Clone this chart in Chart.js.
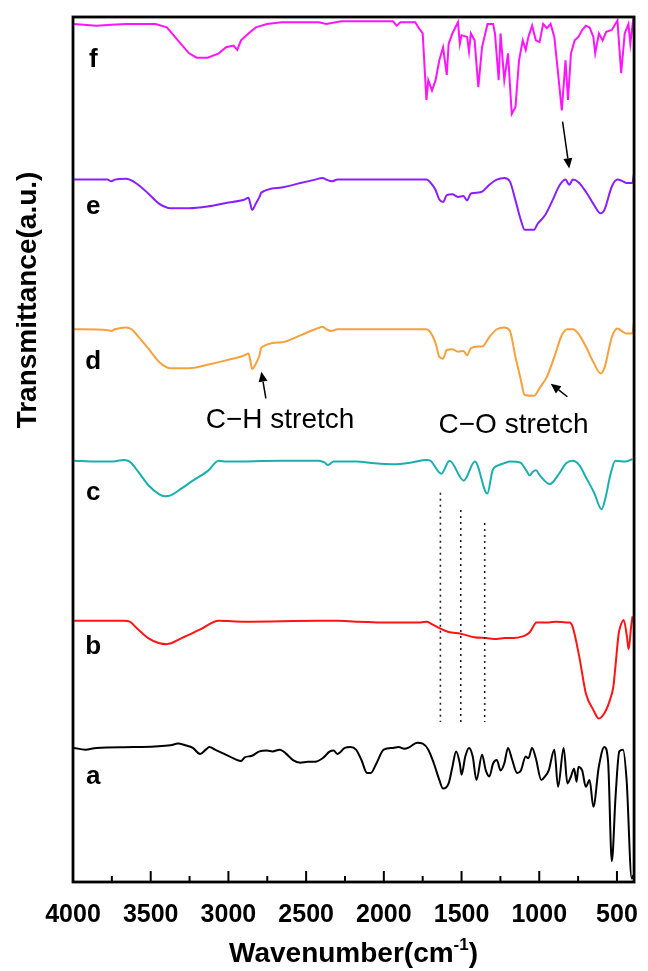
<!DOCTYPE html>
<html lang="en">

<head>
    <meta charset="UTF-8">
    <title>FTIR spectra</title>
    <script src="https://cdn.jsdelivr.net/npm/chart.js"></script>
    <style>
        body {
            margin: 0;
            background: #fff;
        }

        #wrap {
            width: 648px;
            height: 971px;
            position: relative;
        }
    </style>
</head>

<script>
    // wavenumber (cm-1) / transmittance (a.u., already offset for stacking)
    const waveF = [3993, 3850, 3754, 3659, 3468, 3396, 3325, 3253, 3205, 3134, 3062, 3015, 2967, 2943, 2919, 2871, 2824, 2752, 2657, 2418, 2370, 2275, 2060, 1941, 1917, 1893, 1798, 1774, 1750, 1726, 1714, 1690, 1667, 1643, 1619, 1595, 1583, 1559, 1523, 1511, 1500, 1464, 1452, 1440, 1416, 1392, 1368, 1333, 1297, 1285, 1261, 1249, 1225, 1201, 1177, 1153, 1130, 1106, 1087, 1070, 1046, 1022, 998, 975, 951, 927, 903, 879, 855, 831, 815, 796, 772, 748, 724, 700, 676, 652, 640, 616, 592, 569, 533, 497, 473, 450, 426, 414, 395];
    const transF = [99.2, 99.0, 99.1, 99.2, 99.2, 98.8, 97.3, 95.8, 95.3, 95.3, 95.8, 96.5, 96.7, 96.2, 97.3, 98.1, 98.8, 99.2, 99.4, 99.4, 99.2, 99.5, 99.5, 99.5, 99.0, 99.4, 99.4, 98.7, 98.1, 90.4, 92.7, 91.5, 92.7, 95.0, 96.5, 93.3, 96.9, 98.1, 99.4, 96.9, 97.9, 97.7, 96.0, 98.1, 97.3, 91.9, 96.5, 99.2, 99.2, 98.1, 92.7, 98.1, 92.7, 95.8, 88.8, 89.6, 95.0, 97.3, 96.2, 97.7, 99.0, 97.3, 97.1, 99.2, 98.7, 99.2, 97.7, 93.5, 89.2, 95.0, 90.4, 95.8, 97.3, 97.7, 98.5, 99.0, 98.8, 97.7, 95.8, 98.1, 97.3, 98.3, 98.5, 99.6, 93.5, 98.1, 99.2, 96.9, 99.8];

    const waveE = [3993, 3778, 3754, 3730, 3659, 3635, 3587, 3516, 3444, 3372, 3253, 3134, 3015, 2895, 2871, 2859, 2848, 2824, 2800, 2788, 2657, 2537, 2442, 2394, 2370, 2335, 2299, 2179, 1941, 1726, 1702, 1667, 1643, 1619, 1595, 1559, 1523, 1488, 1464, 1440, 1392, 1368, 1321, 1273, 1225, 1189, 1153, 1118, 1094, 1034, 1010, 962, 915, 867, 831, 807, 784, 748, 700, 652, 605, 581, 533, 497, 461, 438, 402, 390];
    const transE = [81.2, 81.2, 81.0, 81.2, 81.3, 81.2, 80.7, 79.6, 78.4, 77.9, 77.9, 78.1, 78.5, 78.9, 79.1, 78.4, 77.7, 78.4, 79.2, 79.7, 80.3, 80.8, 81.2, 81.4, 81.2, 81.0, 81.2, 81.2, 81.2, 81.2, 80.9, 80.0, 78.9, 78.6, 79.4, 79.5, 79.2, 79.3, 78.8, 79.6, 79.7, 79.8, 80.6, 81.2, 81.4, 81.0, 78.8, 76.5, 75.4, 75.4, 76.1, 77.1, 78.8, 80.6, 81.2, 80.6, 81.2, 80.9, 79.8, 78.4, 77.3, 77.7, 80.4, 81.2, 81.0, 80.8, 80.8, 81.9];

    const waveD = [3993, 3778, 3754, 3730, 3659, 3623, 3587, 3516, 3444, 3372, 3253, 3134, 3015, 2895, 2871, 2859, 2848, 2824, 2800, 2788, 2657, 2537, 2442, 2394, 2370, 2335, 2299, 1726, 1702, 1667, 1643, 1619, 1595, 1559, 1523, 1488, 1464, 1440, 1392, 1368, 1321, 1273, 1225, 1189, 1153, 1118, 1094, 1034, 998, 951, 903, 855, 819, 784, 748, 700, 652, 605, 581, 533, 497, 461, 438, 402, 390];
    const transD = [63.9, 63.8, 63.7, 63.9, 64.1, 63.9, 63.2, 61.7, 60.1, 59.4, 59.4, 59.8, 60.3, 60.9, 61.1, 60.3, 59.3, 59.9, 60.9, 61.8, 62.4, 63.2, 63.9, 64.2, 63.9, 63.7, 63.9, 63.9, 63.6, 62.3, 60.7, 60.5, 61.5, 61.6, 61.3, 61.4, 60.9, 61.7, 61.9, 61.9, 63.0, 63.9, 64.1, 63.7, 60.7, 58.0, 56.3, 56.2, 57.1, 58.4, 60.7, 63.2, 63.9, 63.9, 63.4, 61.9, 60.1, 58.8, 59.4, 63.0, 64.0, 63.6, 63.4, 63.4, 64.8];

    const waveC = [3993, 3850, 3754, 3671, 3635, 3587, 3516, 3444, 3408, 3372, 3301, 3229, 3134, 3062, 3015, 2657, 2418, 2382, 2359, 2323, 2179, 2060, 1941, 1822, 1726, 1700, 1630, 1577, 1486, 1414, 1334, 1300, 1260, 1228, 1186, 1123, 1081, 1060, 1043, 1021, 996, 932, 869, 827, 785, 742, 700, 647, 599, 574, 542, 510, 447, 400];
    const transC = [48.7, 48.6, 48.6, 48.8, 48.6, 47.6, 45.9, 44.8, 44.6, 44.7, 45.5, 46.4, 47.5, 48.7, 48.6, 48.7, 48.7, 48.5, 48.2, 48.6, 48.6, 48.4, 48.3, 48.5, 48.8, 48.7, 47.2, 48.7, 46.4, 48.6, 44.9, 47.6, 48.2, 48.4, 48.6, 48.5, 47.5, 47.0, 47.4, 47.6, 47.0, 46.0, 47.3, 48.4, 48.7, 48.2, 46.8, 45.0, 43.1, 44.4, 47.1, 48.7, 48.6, 48.9];

    const waveB = [3993, 3671, 3635, 3587, 3516, 3444, 3396, 3301, 3181, 3062, 2895, 2418, 2299, 2179, 1941, 1762, 1723, 1700, 1636, 1583, 1505, 1419, 1344, 1271, 1225, 1165, 1106, 1081, 1060, 1017, 939, 891, 827, 806, 785, 742, 700, 652, 617, 581, 546, 523, 510, 489, 479, 457, 436, 425, 409, 400];
    const transB = [30.2, 30.2, 30.1, 29.3, 28.2, 27.6, 27.5, 28.2, 29.2, 30.2, 30.1, 30.2, 30.2, 30.1, 30.0, 30.0, 30.1, 29.9, 29.3, 28.9, 28.7, 28.3, 28.2, 28.1, 28.2, 28.2, 28.4, 28.6, 28.9, 30.0, 30.0, 30.1, 30.0, 30.0, 29.5, 26.0, 21.8, 19.9, 18.9, 19.5, 21.0, 22.6, 24.9, 28.7, 29.5, 30.3, 28.4, 26.9, 29.5, 30.7];

    const waveA = [3993, 3921, 3850, 3611, 3372, 3325, 3277, 3229, 3182, 3146, 3122, 3086, 3038, 2991, 2919, 2895, 2848, 2800, 2752, 2716, 2669, 2633, 2585, 2537, 2490, 2442, 2394, 2347, 2323, 2299, 2251, 2215, 2179, 2144, 2108, 2084, 2048, 2001, 1941, 1905, 1869, 1834, 1786, 1750, 1714, 1678, 1643, 1619, 1583, 1559, 1535, 1511, 1500, 1476, 1452, 1428, 1404, 1368, 1344, 1321, 1297, 1273, 1249, 1225, 1201, 1177, 1142, 1118, 1087, 1070, 1046, 1022, 987, 963, 939, 903, 879, 843, 819, 796, 776, 760, 748, 724, 700, 676, 652, 617, 581, 557, 533, 509, 485, 461, 438, 405, 395];
    const transA = [15.5, 15.3, 15.5, 15.6, 15.8, 16.0, 15.8, 15.5, 14.8, 15.3, 15.6, 15.3, 14.9, 14.5, 14.0, 14.4, 14.6, 15.1, 15.2, 15.1, 15.3, 14.9, 14.1, 13.8, 13.9, 13.9, 14.3, 15.1, 15.2, 14.8, 15.5, 15.6, 15.3, 14.1, 12.6, 12.6, 13.7, 15.3, 15.5, 15.6, 15.4, 15.6, 16.1, 16.0, 15.3, 13.7, 11.8, 10.8, 11.4, 13.3, 15.1, 13.7, 12.4, 14.5, 15.5, 14.5, 11.8, 14.7, 12.9, 12.2, 13.7, 14.1, 12.9, 13.7, 15.5, 14.3, 12.6, 12.9, 14.5, 14.3, 15.5, 14.3, 11.8, 12.2, 12.9, 15.3, 11.0, 15.5, 11.4, 12.2, 13.1, 11.6, 13.3, 12.9, 11.0, 11.8, 8.7, 13.3, 15.6, 13.9, 2.4, 9.9, 15.1, 15.3, 11.8, 0.4, 0.8];

    const seriesNames = ['a', 'b', 'c', 'd', 'e', 'f'];
    const seriesColors = ['#000000', '#FF1414', '#1AAFAF', '#F7A03C', '#8A1EFF', '#FF14FF'];
    const labelWave = 3870;
    const labelLevels = [12.2, 27.2, 45.0, 60.1, 78.0, 95.0];

    const tickValues = [4000, 3500, 3000, 2500, 2000, 1500, 1000, 500];
    const minorValues = [3750, 3250, 2750, 2250, 1750, 1250, 750];

    // dotted guides through the c / b bands
    const guideWaves = [1636, 1505, 1351];
    const guideTops = [45.0, 43.0, 41.5];
    const guideBottom = 18.5;

    // arrows: [wave, level] tail -> head
    const arrowTails = [[850, 87.9], [2759, 55.9], [819, 56.1]];
    const arrowHeads = [[807, 82.5], [2788, 59.0], [926, 57.6]];
    const noteTexts = ['C\u2212H stretch', 'C\u2212O stretch'];
    const notePos = [[2668, 53.4], [1165, 52.8]];
</script>

<body>
    <div id="wrap"><canvas id="chart"></canvas></div>

    <script>
        const FONT = "'Liberation Sans', Arial, Helvetica, sans-serif";
        const waves = [waveA, waveB, waveC, waveD, waveE, waveF];
        const trans = [transA, transB, transC, transD, transE, transF];

        const datasets = seriesNames.map((name, i) => ({
            label: name,
            data: waves[i].map((w, j) => ({ x: w, y: trans[i][j] })),
            borderColor: seriesColors[i],
            borderWidth: 2,
            pointRadius: 0,
            fill: false,
            cubicInterpolationMode: name === 'f' ? 'default' : 'monotone',
            tension: name === 'f' ? 0 : 0.4
        }));

        const drawArrow = (ctx, x0, y0, x1, y1) => {
            const ang = Math.atan2(y1 - y0, x1 - x0);
            const hl = 10, hw = 4.5;
            const bx = x1 - hl * Math.cos(ang), by = y1 - hl * Math.sin(ang);
            ctx.beginPath();
            ctx.moveTo(x0, y0);
            ctx.lineTo(bx, by);
            ctx.stroke();
            ctx.beginPath();
            ctx.moveTo(x1, y1);
            ctx.lineTo(bx + hw * Math.sin(ang), by - hw * Math.cos(ang));
            ctx.lineTo(bx - hw * Math.sin(ang), by + hw * Math.cos(ang));
            ctx.closePath();
            ctx.fill();
        };

        const decorations = {
            id: 'decorations',
            afterDatasetsDraw(chart) {
                const { ctx, chartArea: a, scales: { x, y } } = chart;
                ctx.save();

                // dotted guides
                ctx.strokeStyle = '#222';
                ctx.lineWidth = 1.6;
                ctx.setLineDash([2, 4]);
                guideWaves.forEach((w, i) => {
                    const px = x.getPixelForValue(w);
                    ctx.beginPath();
                    ctx.moveTo(px, y.getPixelForValue(guideTops[i]));
                    ctx.lineTo(px, y.getPixelForValue(guideBottom));
                    ctx.stroke();
                });
                ctx.setLineDash([]);

                // arrows
                ctx.strokeStyle = '#000';
                ctx.fillStyle = '#000';
                ctx.lineWidth = 1.5;
                arrowTails.forEach((t, i) => {
                    const h = arrowHeads[i];
                    drawArrow(ctx, x.getPixelForValue(t[0]), y.getPixelForValue(t[1]),
                        x.getPixelForValue(h[0]), y.getPixelForValue(h[1]));
                });

                // notes
                ctx.font = `28px ${FONT}`;
                ctx.textAlign = 'center';
                ctx.textBaseline = 'middle';
                noteTexts.forEach((t, i) => {
                    ctx.fillText(t, x.getPixelForValue(notePos[i][0]), y.getPixelForValue(notePos[i][1]));
                });

                // series letters
                ctx.font = `bold 26px ${FONT}`;
                seriesNames.forEach((n, i) => {
                    ctx.fillText(n, x.getPixelForValue(labelWave), y.getPixelForValue(labelLevels[i]));
                });

                // frame
                ctx.lineWidth = 2.8;
                ctx.strokeRect(a.left, a.top, a.right - a.left, a.bottom - a.top);

                // inward ticks on the bottom axis
                ctx.lineWidth = 2;
                tickValues.forEach(v => {
                    const px = x.getPixelForValue(v);
                    ctx.beginPath();
                    ctx.moveTo(px, a.bottom);
                    ctx.lineTo(px, a.bottom - 11);
                    ctx.stroke();
                });
                minorValues.forEach(v => {
                    const px = x.getPixelForValue(v);
                    ctx.beginPath();
                    ctx.moveTo(px, a.bottom);
                    ctx.lineTo(px, a.bottom - 6);
                    ctx.stroke();
                });

                // axis titles
                ctx.font = `bold 28px ${FONT}`;
                ctx.save();
                ctx.translate(28, 300);
                ctx.rotate(-Math.PI / 2);
                ctx.textAlign = 'center';
                ctx.textBaseline = 'middle';
                ctx.fillText('Transmittance(a.u.)', 0, 0);
                ctx.restore();

                const main = 'Wavenumber(cm', sup = '-1', tail = ')';
                ctx.font = `bold 28px ${FONT}`;
                const w1 = ctx.measureText(main).width, w3 = ctx.measureText(tail).width;
                ctx.font = `bold 17px ${FONT}`;
                const w2 = ctx.measureText(sup).width;
                let sx = (a.left + a.right) / 2 - (w1 + w2 + w3) / 2;
                const base = 962;
                ctx.textAlign = 'left';
                ctx.textBaseline = 'alphabetic';
                ctx.font = `bold 28px ${FONT}`;
                ctx.fillText(main, sx, base);
                ctx.font = `bold 17px ${FONT}`;
                ctx.fillText(sup, sx + w1, base - 12);
                ctx.font = `bold 28px ${FONT}`;
                ctx.fillText(tail, sx + w1 + w2, base);
                ctx.restore();
            }
        };

        new Chart(document.getElementById('chart'), {
            type: 'line',
            data: { datasets: datasets },
            options: {
                responsive: true,
                maintainAspectRatio: false,
                animation: false,
                layout: { padding: { left: 73, right: 6, top: 17, bottom: 0 } },
                scales: {
                    x: {
                        type: 'linear',
                        reverse: true,
                        min: 390,
                        max: 4000,
                        afterBuildTicks: s => { s.ticks = tickValues.map(v => ({ value: v })); },
                        afterFit: s => { s.height = 89; },
                        grid: { display: false },
                        border: { display: false },
                        ticks: {
                            color: '#000',
                            padding: 10,
                            maxRotation: 0,
                            autoSkip: false,
                            callback: v => String(v),
                            font: { family: FONT, size: 25, weight: 'bold' }
                        }
                    },
                    y: {
                        display: false,
                        min: 0,
                        max: 100
                    }
                },
                plugins: {
                    legend: { display: false },
                    tooltip: { enabled: false }
                }
            },
            plugins: [decorations]
        });
    </script>

</body>

</html>
